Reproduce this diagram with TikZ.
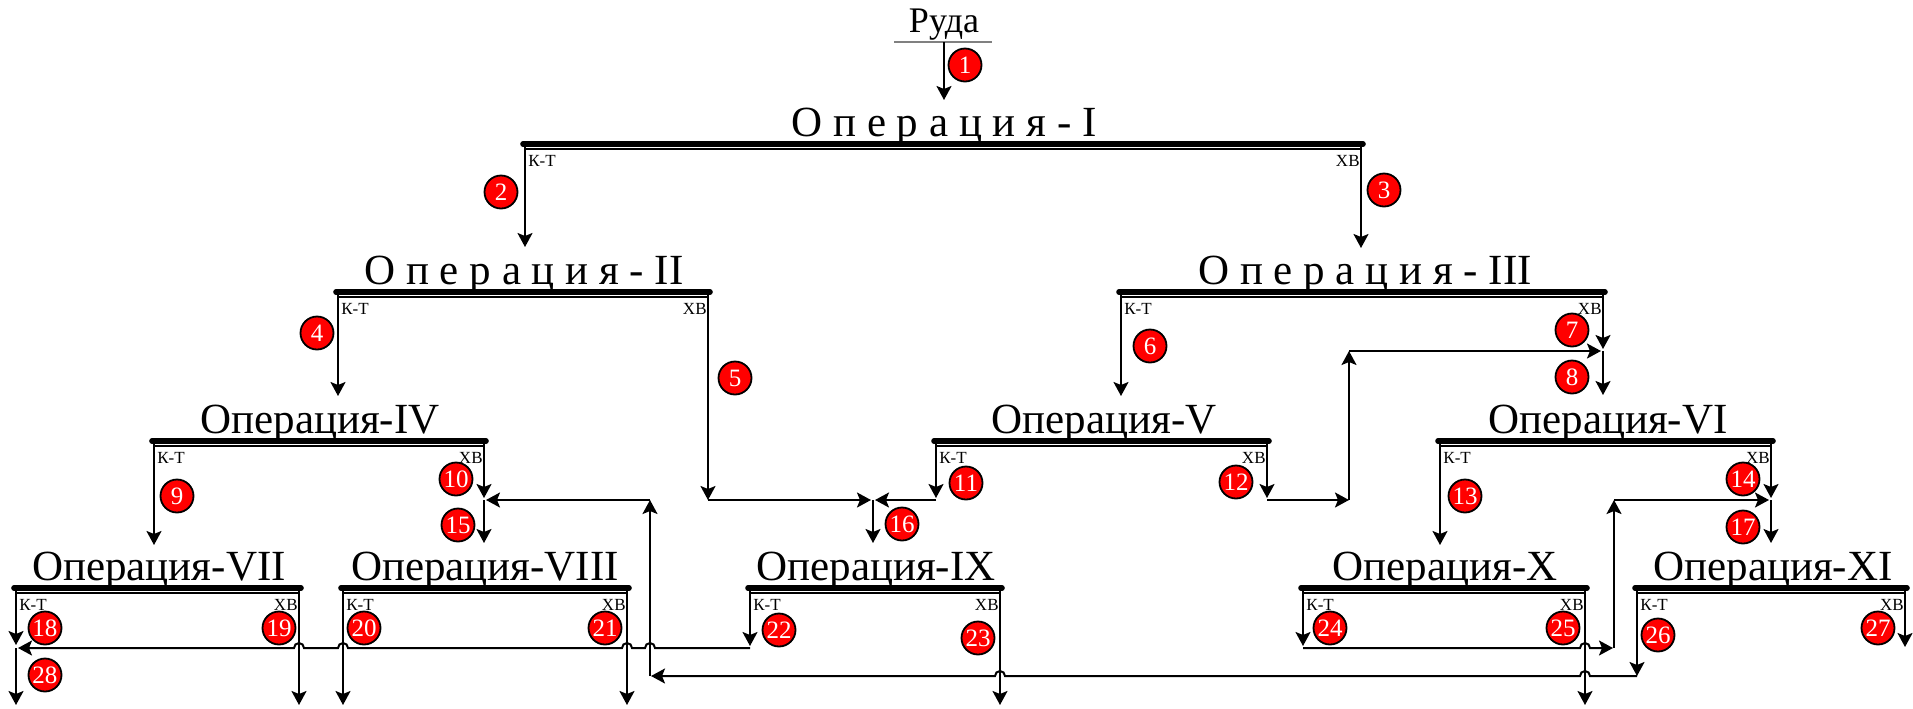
\documentclass[tikz,border=0pt]{standalone}
\usepackage{fontspec}
\setmainfont{Liberation Serif}
\usetikzlibrary{arrows.meta}
\tikzset{
 thickbar/.style={line width=2.8pt, line cap=round},
 thinbar/.style={line width=0.7pt},
 optitle/.style={anchor=base, inner sep=0pt, font=\fontsize{21.5}{24}\selectfont},
 lab/.style={inner sep=0pt, font=\fontsize{8.5}{9}\selectfont},
 flow/.style={line width=1pt, -{Stealth[length=7pt,width=7.5pt,inset=1.5pt]}},
 plain/.style={line width=1pt},
 num/.style={circle, fill=red, draw=black, line width=0.9pt, text=white, inner sep=0pt, minimum size=16.5pt, font=\fontsize{12.5}{13}\selectfont},
}
\newcommand\opbar[6]{%
 \coordinate (#1l) at (#2,#4);
 \coordinate (#1r) at (#3,#4);
 \draw[thickbar] ([xshift=-1pt]#1l) -- ([xshift=1pt]#1r);
 \draw[thinbar] ([yshift=-2.5pt]#1l) -- ([yshift=-2.5pt]#1r);
 \node[optitle] (t#1) at (#5,#4-8) {#6};
 \node[lab,anchor=west] (k#1) at ([xshift=1.5pt,yshift=-8.5pt]#1l) {К-Т};
 \node[lab,anchor=east] (h#1) at ([xshift=-0.5pt,yshift=-8.5pt]#1r) {ХВ};
}
\begin{document}
\begin{tikzpicture}[x=0.5pt,y=-0.5pt]
\useasboundingbox (0,0) rectangle (1913,708);
% source
\node[anchor=base, inner sep=0pt, font=\fontsize{18}{20}\selectfont] (ruda) at (944,32) {Руда};
\coordinate (rl) at (894,42); \coordinate (rr) at (992,42); \coordinate (r0) at (944,42);
\draw[gray, line width=0.8pt] (rl) -- (rr);
% operations
\opbar{I}{525}{1361}{144}{944}{О п е р а ц и я - I}
\opbar{II}{338}{708}{292}{524}{О п е р а ц и я - II}
\opbar{III}{1121}{1603}{292}{1365}{О п е р а ц и я - III}
\opbar{IV}{154}{484}{441}{320}{Операция-IV}
\opbar{V}{936}{1267}{441}{1104}{Операция-V}
\opbar{VI}{1440}{1771}{441}{1608}{Операция-VI}
\opbar{VII}{16}{299}{588}{159}{Операция-VII}
\opbar{VIII}{343}{627}{588}{485}{Операция-VIII}
\opbar{IX}{750}{1000}{588}{876}{Операция-IX}
\opbar{X}{1303}{1585}{588}{1445}{Операция-X}
\opbar{XI}{1637}{1905}{588}{1773}{Операция-XI}
% junctions and free ends
\coordinate (a1) at (944,100);
\coordinate (a2) at (525,247);
\coordinate (a3) at (1361,248);
\coordinate (a4) at (338,396);
\coordinate (a6) at (1121,396);
\coordinate (a9) at (154,545);
\coordinate (a13) at (1440,545);
\coordinate (j5) at (708,500);
\coordinate (j16) at (873,500);
\coordinate (j12) at (1267,500);
\coordinate (j12b) at (1349,500);
\coordinate (j12c) at (1349,351);
\coordinate (j78) at (1603,351);
\coordinate (j1015) at (484,500);
\coordinate (j1417) at (1771,500);
\coordinate (a15) at (484,543);
\coordinate (a16) at (873,543);
\coordinate (a8) at (1603,395);
\coordinate (a17) at (1771,543);
\coordinate (j18) at (16,648);
\coordinate (j22) at (750,648);
\coordinate (j24) at (1303,648);
\coordinate (j24b) at (1614,648);
\coordinate (j24c) at (1614,500);
\coordinate (j26) at (1637,676);
\coordinate (j26b) at (650,676);
\coordinate (j26c) at (650,500);
\coordinate (o28) at (16,705);
\coordinate (o19) at (299,705);
\coordinate (o20) at (343,705);
\coordinate (o21) at (627,705);
\coordinate (o23) at (1000,705);
\coordinate (o25) at (1585,705);
\coordinate (o27) at (1905,647);
% flows
\draw[flow] (r0) -- (a1);
\draw[flow] (Il) -- (a2);
\draw[flow] (Ir) -- (a3);
\draw[flow] (IIl) -- (a4);
\draw[flow] (IIr) -- (j5);
\draw[flow] (j5) -- ([xshift=-1pt]j16);
\draw[flow] (IIIl) -- (a6);
\draw[flow] (IIIr) -- ([yshift=1pt]j78);
\draw[flow] (j78) -- (a8);
\draw[flow] (IVl) -- (a9);
\draw[flow] (IVr) -- ([yshift=1pt]j1015);
\draw[flow] (j1015) -- (a15);
\draw[flow] (Vl) -- ([yshift=1pt]Vl |- j16);
\draw[flow] (Vl |- j16) -- ([xshift=1pt]j16);
\draw[flow] (j16) -- (a16);
\draw[flow] (Vr) -- ([yshift=1pt]j12);
\draw[flow] (j12) -- (j12b);
\draw[flow] (j12b) -- (j12c);
\draw[flow] (j12c) -- ([xshift=-1pt]j78);
\draw[flow] (VIl) -- (a13);
\draw[flow] (VIr) -- ([yshift=1pt]j1417);
\draw[flow] (j1417) -- (a17);
\draw[flow] (VIIl) -- ([yshift=1.5pt]j18);
\draw[flow] (j18) -- (o28);
\draw[flow] (VIIr) -- (o19);
\draw[flow] (VIIIl) -- (o20);
\draw[flow] (VIIIr) -- (o21);
\draw[flow] (IXl) -- ([yshift=1pt]j22);
\draw[flow] (j22) -- (655,648) arc[start angle=0,end angle=180,radius=2.5pt]
  -- (632,648) arc[start angle=0,end angle=180,radius=2.5pt]
  -- (348,648) arc[start angle=0,end angle=180,radius=2.5pt]
  -- (304,648) arc[start angle=0,end angle=180,radius=2.5pt]
  -- ([xshift=1pt]j18);
\draw[flow] (IXr) -- (o23);
\draw[flow] (Xl) -- ([yshift=1pt]j24);
\draw[flow] (j24) -- (1580,648) arc[start angle=180,end angle=0,radius=2.5pt] -- ([xshift=-0.5pt]j24b);
\draw[flow] (j24b) -- (j24c);
\draw[flow] (j24c) -- ([xshift=-1pt]j1417);
\draw[flow] (Xr) -- (o25);
\draw[flow] (XIl) -- (j26);
\draw[flow] (j26) -- (1590,676) arc[start angle=0,end angle=180,radius=2.5pt]
  -- (1005,676) arc[start angle=0,end angle=180,radius=2.5pt]
  -- ([xshift=0.5pt]j26b);
\draw[flow] (j26b) -- (j26c);
\draw[flow] (j26c) -- ([xshift=1pt]j1015);
\draw[flow] (XIr) -- (o27);
% stream numbers
\node[num] (n1) at (965,65) {1};
\node[num] (n2) at (501,192) {2};
\node[num] (n3) at (1384,190) {3};
\node[num] (n4) at (317,333) {4};
\node[num] (n5) at (735,378) {5};
\node[num] (n6) at (1150,346) {6};
\node[num] (n7) at (1572,330) {7};
\node[num] (n8) at (1572,377) {8};
\node[num] (n9) at (177,496) {9};
\node[num] (n10) at (456,479) {10};
\node[num] (n11) at (966,483) {11};
\node[num] (n12) at (1236,482) {12};
\node[num] (n13) at (1465,496) {13};
\node[num] (n14) at (1743,479) {14};
\node[num] (n15) at (458,525) {15};
\node[num] (n16) at (902,524) {16};
\node[num] (n17) at (1743,527) {17};
\node[num] (n18) at (45,628) {18};
\node[num] (n19) at (279,628) {19};
\node[num] (n20) at (364,628) {20};
\node[num] (n21) at (605,628) {21};
\node[num] (n22) at (779,630) {22};
\node[num] (n23) at (978,638) {23};
\node[num] (n24) at (1330,628) {24};
\node[num] (n25) at (1563,628) {25};
\node[num] (n26) at (1658,635) {26};
\node[num] (n27) at (1878,628) {27};
\node[num] (n28) at (45,675) {28};
\end{tikzpicture}
\end{document}
